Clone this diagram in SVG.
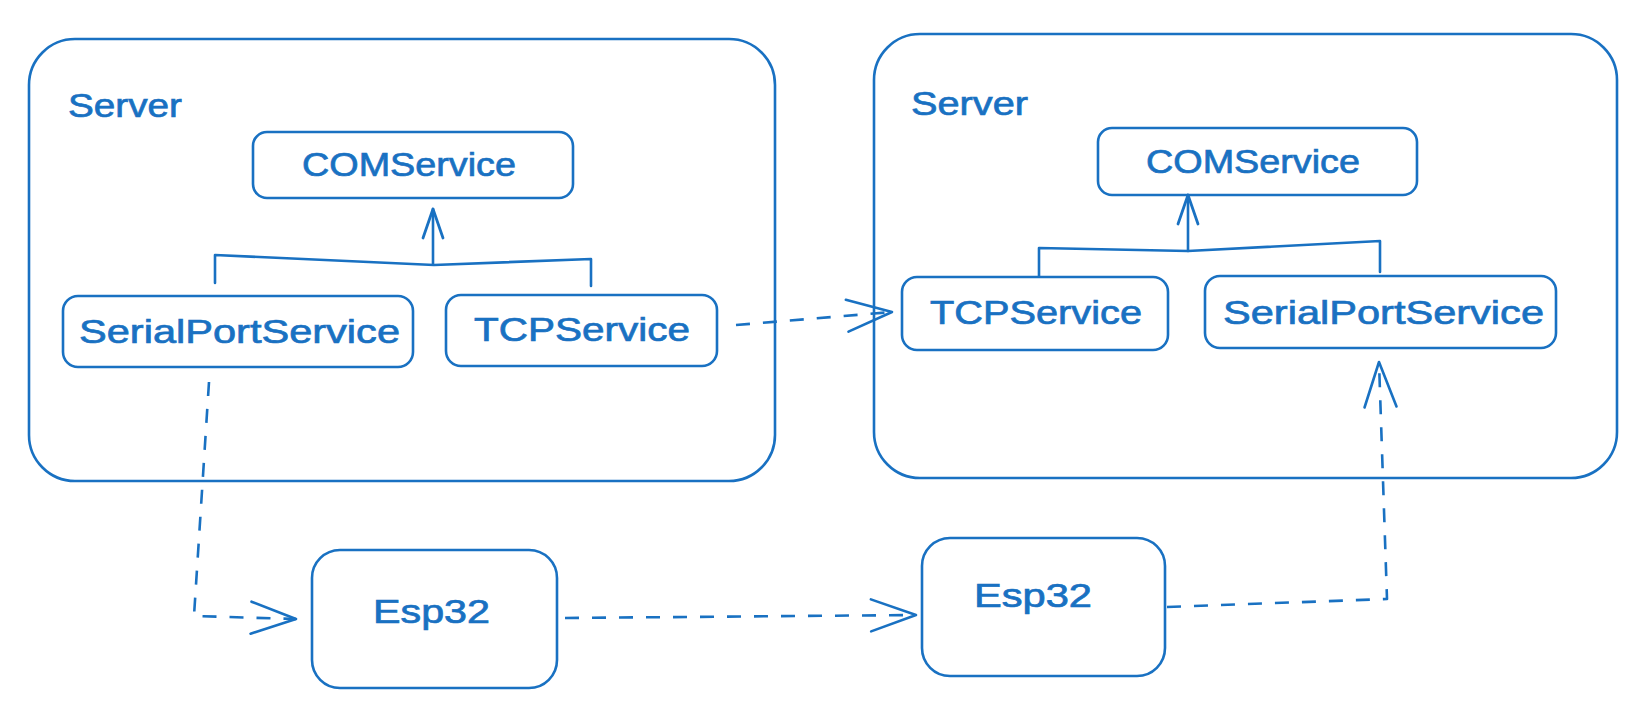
<svg xmlns="http://www.w3.org/2000/svg" width="1646" height="701" viewBox="0 0 1646 701">
  <style>
    .box { fill: #ffffff; stroke: #1971c2; stroke-width: 2.6; }
    .frame { fill: none; stroke: #1971c2; stroke-width: 2.6; }
    .lbl { font-family: "Liberation Sans", "DejaVu Sans", sans-serif; font-size: 33px; fill: #1971c2; stroke: #1971c2; stroke-width: 0.7; }
    .solid { fill: none; stroke: #1971c2; stroke-width: 2.6; stroke-linejoin: round; stroke-linecap: round; }
    .dash { fill: none; stroke: #1971c2; stroke-width: 2.6; stroke-dasharray: 14 13; stroke-linejoin: round; }
  </style>
  <defs>
    <marker id="headLg" viewBox="-50 -20 54 40" refX="0" refY="0" markerWidth="54" markerHeight="40" markerUnits="userSpaceOnUse" orient="auto">
      <path d="M-45,-16 L0,0 L-45,16" fill="none" stroke="#1971c2" stroke-width="2.6" stroke-linecap="round" stroke-linejoin="round" stroke-dasharray="none"/>
    </marker>
    <marker id="headSm" viewBox="-34 -14 38 28" refX="0" refY="0" markerWidth="38" markerHeight="28" markerUnits="userSpaceOnUse" orient="auto">
      <path d="M-29,-10 L0,0 L-29,10" fill="none" stroke="#1971c2" stroke-width="2.8" stroke-linecap="round" stroke-linejoin="round" stroke-dasharray="none"/>
    </marker>
  </defs>

  <rect width="1646" height="701" fill="#ffffff"/>

  <!-- Left server -->
  <g id="server-left">
    <rect class="frame" x="29" y="39" width="746" height="442" rx="46" ry="46"/>
    <text class="lbl" x="68" y="117" textLength="114" lengthAdjust="spacingAndGlyphs">Server</text>
  </g>
  <g id="com-left">
    <rect class="box" x="253" y="132" width="320" height="66" rx="14" ry="14"/>
    <text class="lbl" x="302" y="176" textLength="214" lengthAdjust="spacingAndGlyphs">COMService</text>
  </g>
  <g id="serial-left">
    <rect class="box" x="63" y="296" width="350" height="71" rx="15" ry="15"/>
    <text class="lbl" x="79" y="343" textLength="321" lengthAdjust="spacingAndGlyphs">SerialPortService</text>
  </g>
  <g id="tcp-left">
    <rect class="box" x="446" y="295" width="271" height="71" rx="15" ry="15"/>
    <text class="lbl" x="474" y="341" textLength="216" lengthAdjust="spacingAndGlyphs">TCPService</text>
  </g>

  <!-- Right server -->
  <g id="server-right">
    <rect class="frame" x="874" y="34" width="743" height="444" rx="46" ry="46"/>
    <text class="lbl" x="911" y="115" textLength="117" lengthAdjust="spacingAndGlyphs">Server</text>
  </g>
  <g id="com-right">
    <rect class="box" x="1098" y="128" width="319" height="67" rx="14" ry="14"/>
    <text class="lbl" x="1146" y="173" textLength="214" lengthAdjust="spacingAndGlyphs">COMService</text>
  </g>
  <g id="tcp-right">
    <rect class="box" x="902" y="277" width="266" height="73" rx="15" ry="15"/>
    <text class="lbl" x="930" y="324" textLength="212" lengthAdjust="spacingAndGlyphs">TCPService</text>
  </g>
  <g id="serial-right">
    <rect class="box" x="1205" y="276" width="351" height="72" rx="15" ry="15"/>
    <text class="lbl" x="1223" y="324" textLength="321" lengthAdjust="spacingAndGlyphs">SerialPortService</text>
  </g>

  <!-- Esp32 devices -->
  <g id="esp32-left">
    <rect class="box" x="312" y="550" width="245" height="138" rx="28" ry="28"/>
    <text class="lbl" x="373" y="623" textLength="117" lengthAdjust="spacingAndGlyphs">Esp32</text>
  </g>
  <g id="esp32-right">
    <rect class="box" x="922" y="538" width="243" height="138" rx="28" ry="28"/>
    <text class="lbl" x="974" y="607" textLength="118" lengthAdjust="spacingAndGlyphs">Esp32</text>
  </g>

  <!-- Connectors -->
  <g id="connectors">
    <!-- left inheritance bracket -->
    <polyline class="solid" points="215,283 215,255 434,265 591,259 591,286"/>
    <line class="solid" x1="433" y1="264" x2="433" y2="209" marker-end="url(#headSm)"/>
    <!-- right inheritance bracket -->
    <polyline class="solid" points="1039,276 1039,248 1188,251 1380,241 1380,272"/>
    <line class="solid" x1="1188" y1="251" x2="1188" y2="195" marker-end="url(#headSm)"/>
    <!-- TCP to TCP -->
    <line class="dash" x1="736" y1="325" x2="892" y2="312" marker-end="url(#headLg)"/>
    <!-- Serial left to Esp32 left -->
    <polyline class="dash" points="209,382 194,616 296,619" marker-end="url(#headLg)"/>
    <!-- Esp32 left to Esp32 right -->
    <line class="dash" x1="565" y1="618" x2="916" y2="615" marker-end="url(#headLg)"/>
    <!-- Esp32 right to Serial right -->
    <polyline class="dash" points="1167,607 1387,599 1379,362" marker-end="url(#headLg)"/>
  </g>
</svg>
